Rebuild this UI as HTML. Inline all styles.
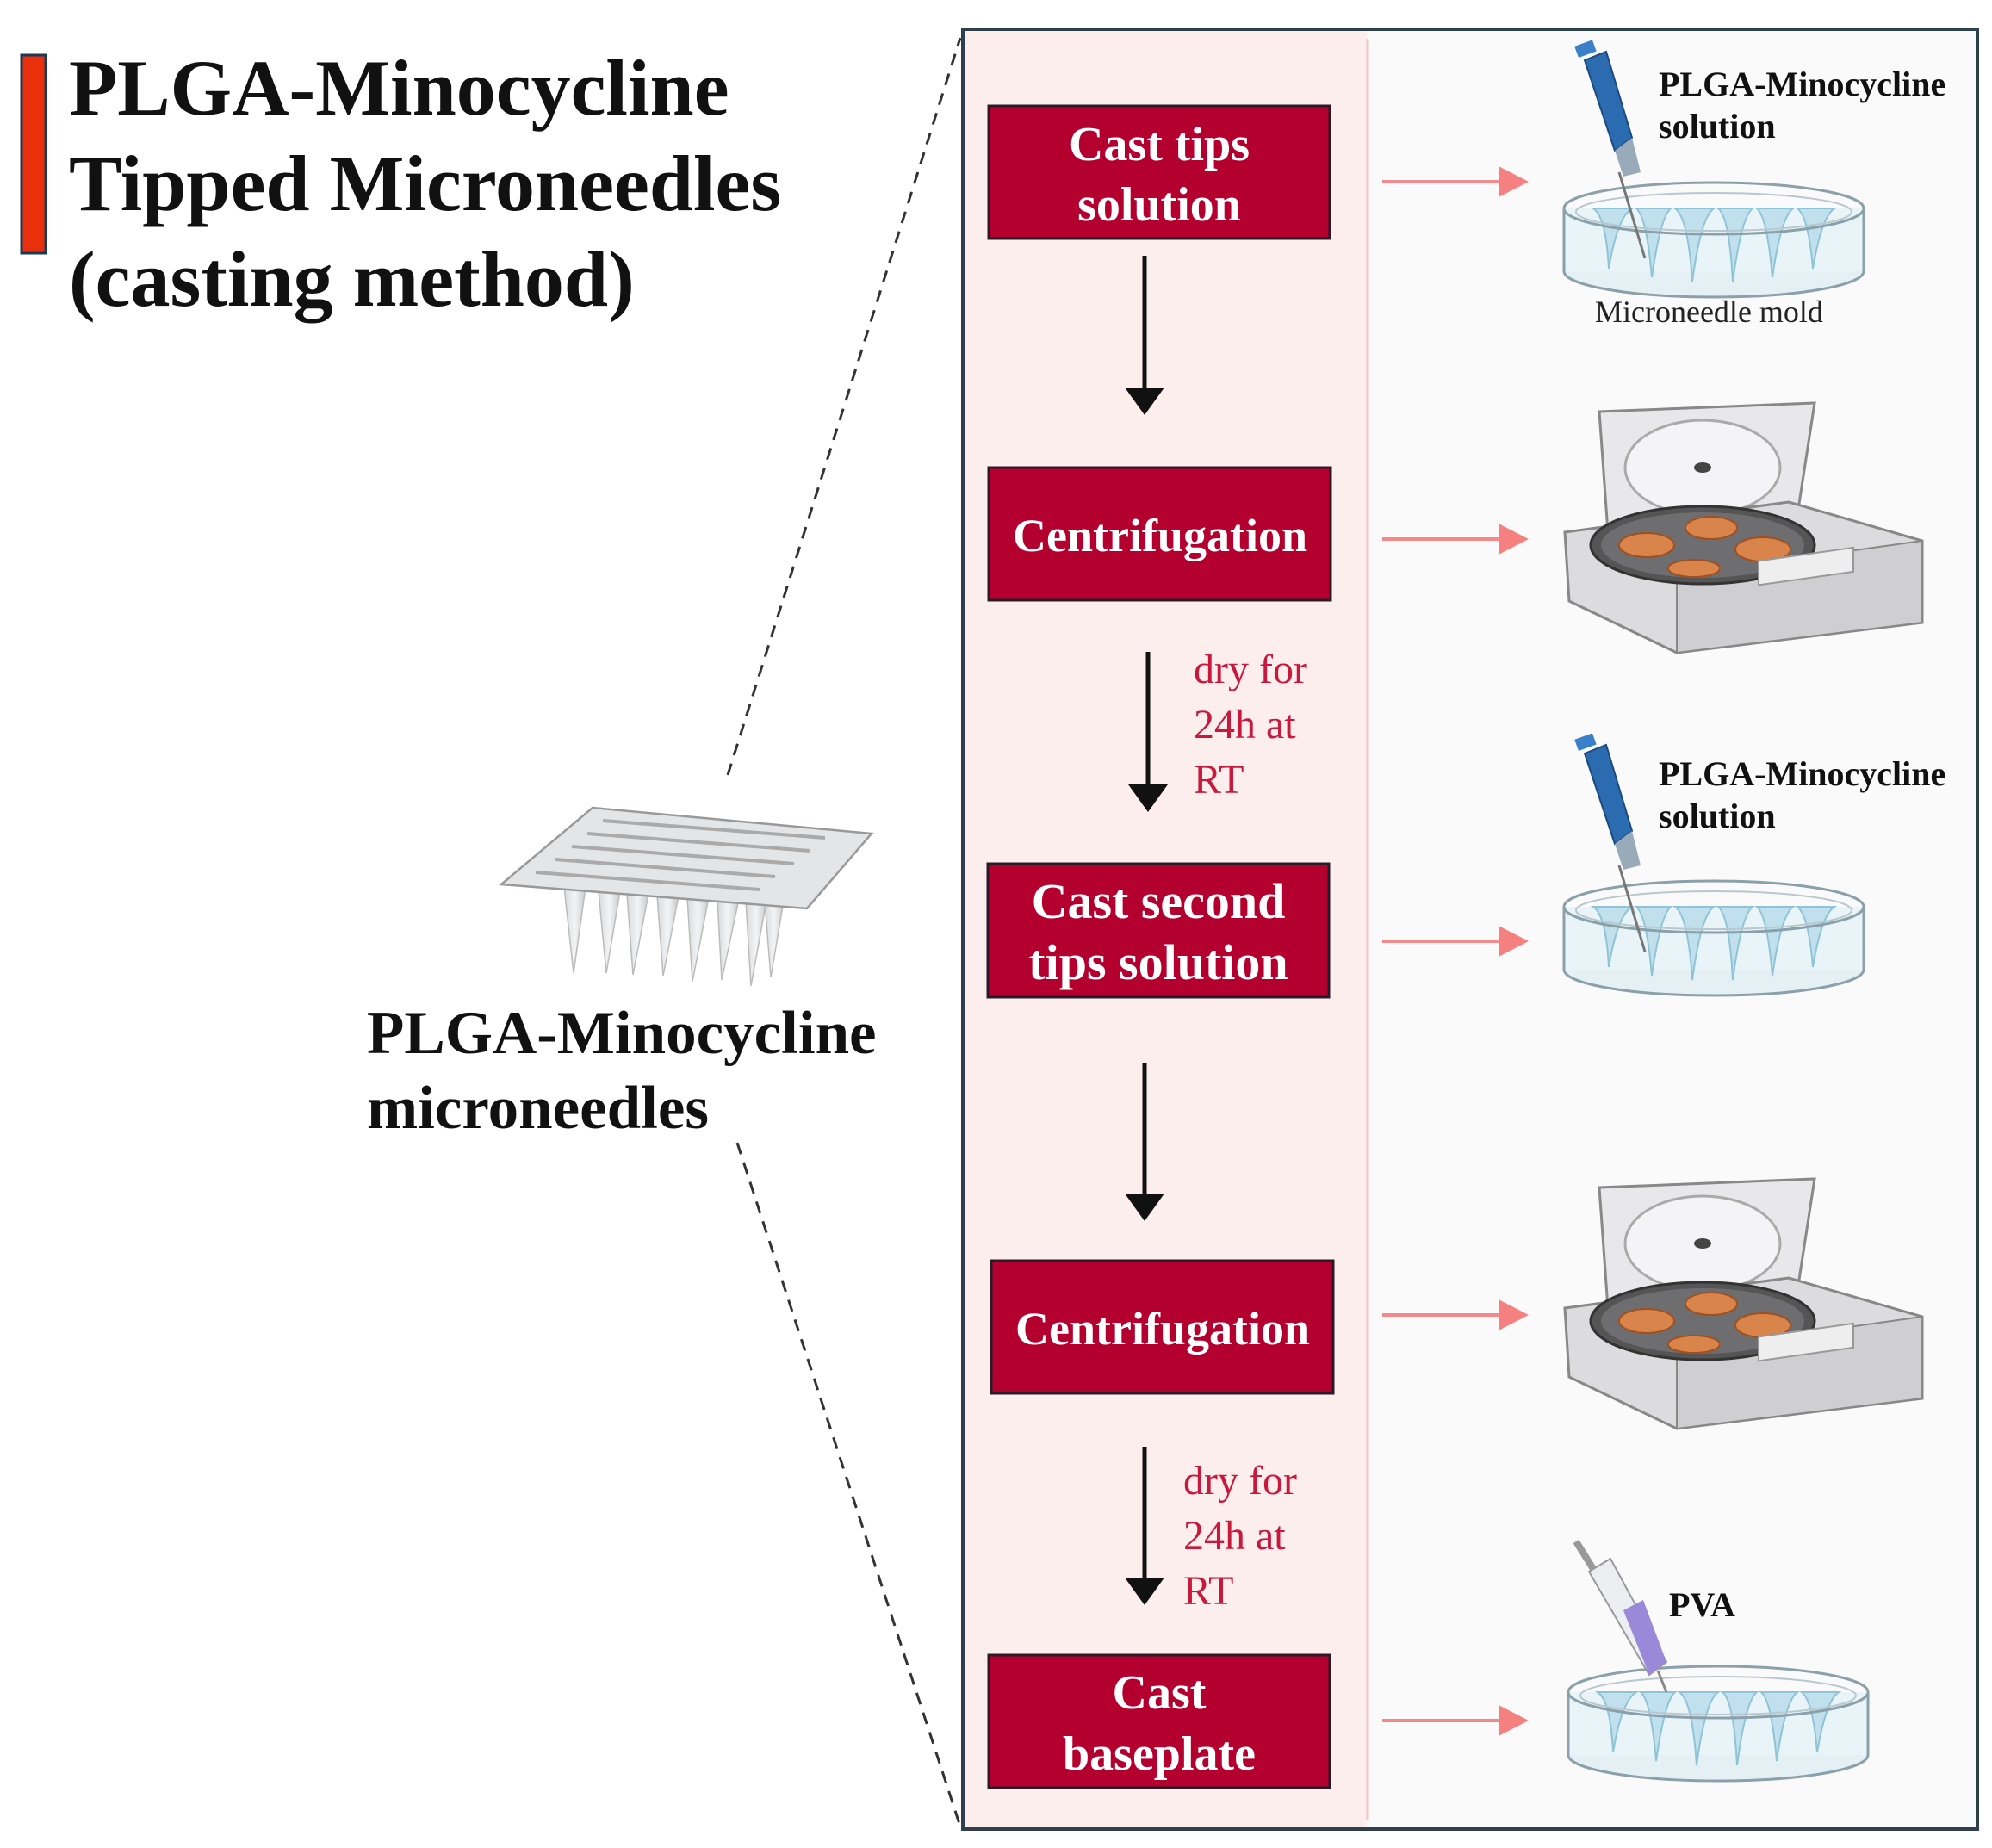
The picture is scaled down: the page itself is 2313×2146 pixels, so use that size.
<!DOCTYPE html>
<html><head><meta charset="utf-8"><style>
html,body{margin:0;padding:0;background:#fff;}
svg{display:block;}
.t{font-family:"Liberation Serif",serif;}
</style></head><body>
<svg width="2313" height="2146" viewBox="0 0 2313 2146" xmlns="http://www.w3.org/2000/svg">
<defs>
<linearGradient id="nd" x1="0" x2="1"><stop offset="0" stop-color="#d8dadc"/><stop offset="0.5" stop-color="#f3f4f5"/><stop offset="1" stop-color="#c8cacc"/></linearGradient>
<g id="dish">
  <ellipse cx="0" cy="73" rx="174" ry="30" fill="#e4f0f4" stroke="#8aa0aa" stroke-width="3"/>
  <rect x="-174" y="0" width="348" height="73" fill="#e9f4f8"/>
  <line x1="-174" y1="0" x2="-174" y2="73" stroke="#8aa0aa" stroke-width="3"/>
  <line x1="174" y1="0" x2="174" y2="73" stroke="#8aa0aa" stroke-width="3"/>
  <g fill="#bfe0ec" stroke="#8fc3d6" stroke-width="2">
    <path d="M-140 0 Q-125 10 -122 70 Q-112 10 -95 0Z"/>
    <path d="M-90 0 Q-78 10 -72 80 Q-62 10 -50 0Z"/>
    <path d="M-45 0 Q-30 10 -25 85 Q-15 10 0 0Z"/>
    <path d="M5 0 Q18 10 22 85 Q32 10 45 0Z"/>
    <path d="M50 0 Q62 10 68 80 Q78 10 92 0Z"/>
    <path d="M97 0 Q110 10 115 70 Q125 10 140 0Z"/>
  </g>
  <ellipse cx="0" cy="0" rx="174" ry="30" fill="none" stroke="#8aa0aa" stroke-width="3"/>
  <ellipse cx="0" cy="4" rx="160" ry="22" fill="none" stroke="#b8c8ce" stroke-width="2"/>
</g>
<g id="pip">
  <line x1="60" y1="150" x2="90" y2="250" stroke="#777" stroke-width="3"/>
  <path d="M20 20 L45 10 L75 110 L55 125 Z" fill="#2b6cb0" stroke="#1c4a80" stroke-width="2"/>
  <rect x="10" y="0" width="22" height="14" fill="#3a80c8" transform="rotate(-20 20 7)"/>
  <path d="M55 125 L75 110 L85 150 L65 155 Z" fill="#9ab"/>
</g>
<g id="cent">
  <path d="M40 10 L290 0 L270 130 L50 150 Z" fill="#e8e8ea" stroke="#888" stroke-width="3"/>
  <ellipse cx="160" cy="75" rx="90" ry="55" fill="#f4f4f6" stroke="#aaa" stroke-width="3"/>
  <ellipse cx="160" cy="75" rx="10" ry="6" fill="#444"/>
  <path d="M0 150 L260 115 L415 160 L415 255 L130 290 L5 230 Z" fill="#dcdcde" stroke="#888" stroke-width="3"/>
  <path d="M130 200 L415 160 L415 255 L130 290 Z" fill="#cfcfd2" stroke="#888" stroke-width="2"/>
  <ellipse cx="160" cy="165" rx="130" ry="45" fill="#555" stroke="#333" stroke-width="3"/>
  <ellipse cx="160" cy="165" rx="118" ry="38" fill="#6e6e70"/>
  <g fill="#d8844a" stroke="#a05020" stroke-width="2">
    <ellipse cx="95" cy="165" rx="32" ry="14"/><ellipse cx="170" cy="145" rx="30" ry="13"/>
    <ellipse cx="230" cy="170" rx="32" ry="14"/><ellipse cx="150" cy="192" rx="30" ry="10"/>
  </g>
  <rect x="225" y="215" width="110" height="28" fill="#eee" stroke="#999" stroke-width="2" transform="skewY(-8)"/>
</g>
</defs>

<!-- title -->
<rect x="25" y="64" width="28" height="230" fill="#e8300c" stroke="#1a3a5a" stroke-width="3"/>
<g class="t" font-weight="bold" font-size="92" fill="#111">
<text x="80" y="133">PLGA-Minocycline</text>
<text x="80" y="244">Tipped Microneedles</text>
<text x="80" y="355">(casting method)</text>
</g>

<!-- dashed lines -->
<line x1="845" y1="900" x2="1115" y2="44" stroke="#333" stroke-width="3" stroke-dasharray="14,10"/>
<line x1="856" y1="1327" x2="1115" y2="2121" stroke="#333" stroke-width="3" stroke-dasharray="14,10"/>

<!-- patch -->
<g>
  <g fill="url(#nd)" stroke="#bbb" stroke-width="1.5">
    <path d="M655 1030 L680 1030 L666 1130Z"/><path d="M695 1035 L720 1035 L704 1130Z"/>
    <path d="M728 1038 L753 1038 L735 1132Z"/><path d="M763 1040 L788 1040 L770 1133Z"/>
    <path d="M798 1042 L823 1042 L804 1140Z"/><path d="M833 1044 L858 1044 L838 1138Z"/>
    <path d="M866 1046 L890 1046 L872 1145Z"/><path d="M888 1046 L910 1046 L895 1135Z"/>
  </g>
  <path d="M582 1027 L688 938 L1012 968 L937 1055 Z" fill="#e4e5e7" stroke="#999" stroke-width="2.5"/>
  <g stroke="#aaa" stroke-width="4">
    <line x1="700" y1="953" x2="958" y2="973"/><line x1="682" y1="968" x2="940" y2="988"/>
    <line x1="664" y1="983" x2="922" y2="1003"/><line x1="645" y1="998" x2="900" y2="1018"/>
    <line x1="622" y1="1013" x2="882" y2="1033"/>
  </g>
</g>
<g class="t" font-weight="bold" font-size="71" fill="#111">
<text x="426" y="1223">PLGA-Minocycline</text>
<text x="426" y="1310">microneedles</text>
</g>

<!-- frame -->
<rect x="1118" y="34" width="1178" height="2090" fill="#fbfafa"/>
<rect x="1118" y="34" width="469" height="2090" fill="#fdeeee"/>
<line x1="1588" y1="45" x2="1588" y2="2114" stroke="#f6c4c4" stroke-width="3"/>
<rect x="1118" y="34" width="1178" height="2090" fill="none" stroke="#2e3f4e" stroke-width="4"/>

<!-- boxes -->
<g fill="#b4002e" stroke="#2a1a28" stroke-width="3">
<rect x="1148" y="123" width="396" height="154"/>
<rect x="1148" y="543" width="397" height="154"/>
<rect x="1147" y="1003" width="396" height="155"/>
<rect x="1151" y="1464" width="397" height="154"/>
<rect x="1148" y="1922" width="396" height="154"/>
</g>
<g class="t" font-weight="bold" font-size="56" fill="#fff" text-anchor="middle">
<text x="1346" y="186">Cast tips</text><text x="1346" y="256">solution</text>
<text x="1347" y="640" font-size="54">Centrifugation</text>
<text x="1345" y="1066" font-size="58">Cast second</text><text x="1345" y="1137" font-size="58">tips solution</text>
<text x="1350" y="1561" font-size="54">Centrifugation</text>
<text x="1346" y="1984">Cast</text><text x="1346" y="2055">baseplate</text>
</g>

<!-- black arrows -->
<g stroke="#111" stroke-width="5">
<line x1="1329" y1="297" x2="1329" y2="455"/>
<line x1="1333" y1="757" x2="1333" y2="916"/>
<line x1="1329" y1="1234" x2="1329" y2="1391"/>
<line x1="1329" y1="1680" x2="1329" y2="1837"/>
</g>
<g fill="#111">
<path d="M1306 450 L1352 450 L1329 482Z"/>
<path d="M1310 911 L1356 911 L1333 943Z"/>
<path d="M1306 1386 L1352 1386 L1329 1418Z"/>
<path d="M1306 1832 L1352 1832 L1329 1864Z"/>
</g>
<g class="t" font-size="48" fill="#c8193c">
<text x="1386" y="793">dry for</text><text x="1386" y="857">24h at</text><text x="1386" y="921">RT</text>
<text x="1374" y="1735">dry for</text><text x="1374" y="1799">24h at</text><text x="1374" y="1863">RT</text>
</g>

<!-- pink arrows -->
<g stroke="#f58888" stroke-width="4">
<line x1="1605" y1="211" x2="1745" y2="211"/><line x1="1605" y1="626" x2="1745" y2="626"/>
<line x1="1605" y1="1093" x2="1745" y2="1093"/><line x1="1605" y1="1527" x2="1745" y2="1527"/>
<line x1="1605" y1="1998" x2="1745" y2="1998"/>
</g>
<g fill="#f58080">
<path d="M1740 193 L1775 211 L1740 229Z"/><path d="M1740 608 L1775 626 L1740 644Z"/>
<path d="M1740 1075 L1775 1093 L1740 1111Z"/><path d="M1740 1509 L1775 1527 L1740 1545Z"/>
<path d="M1740 1980 L1775 1998 L1740 2016Z"/>
</g>

<!-- illustrations -->
<use href="#dish" x="1990" y="242"/>
<use href="#pip" x="1820" y="50"/>
<use href="#cent" x="1817" y="468"/>
<use href="#dish" x="1990" y="1053"/>
<use href="#pip" x="1820" y="855"/>
<use href="#cent" x="1817" y="1369"/>
<use href="#dish" x="1995" y="1965"/>
<g>
  <line x1="1830" y1="1790" x2="1855" y2="1830" stroke="#999" stroke-width="8"/>
  <path d="M1845 1825 L1870 1810 L1935 1930 L1915 1945 Z" fill="#eceef2" stroke="#999" stroke-width="2"/>
  <path d="M1885 1870 L1908 1858 L1935 1930 L1915 1945 Z" fill="#9a88d8"/>
  <line x1="1925" y1="1940" x2="1935" y2="1965" stroke="#888" stroke-width="3"/>
</g>
<g class="t" font-weight="bold" font-size="40" fill="#111">
<text x="1926" y="111">PLGA-Minocycline</text><text x="1926" y="160">solution</text>
<text x="1926" y="912">PLGA-Minocycline</text><text x="1926" y="961">solution</text>
<text x="1938" y="1877">PVA</text>
</g>
<text class="t" x="1852" y="374" font-size="36" fill="#222">Microneedle mold</text>
</svg>
</body></html>
